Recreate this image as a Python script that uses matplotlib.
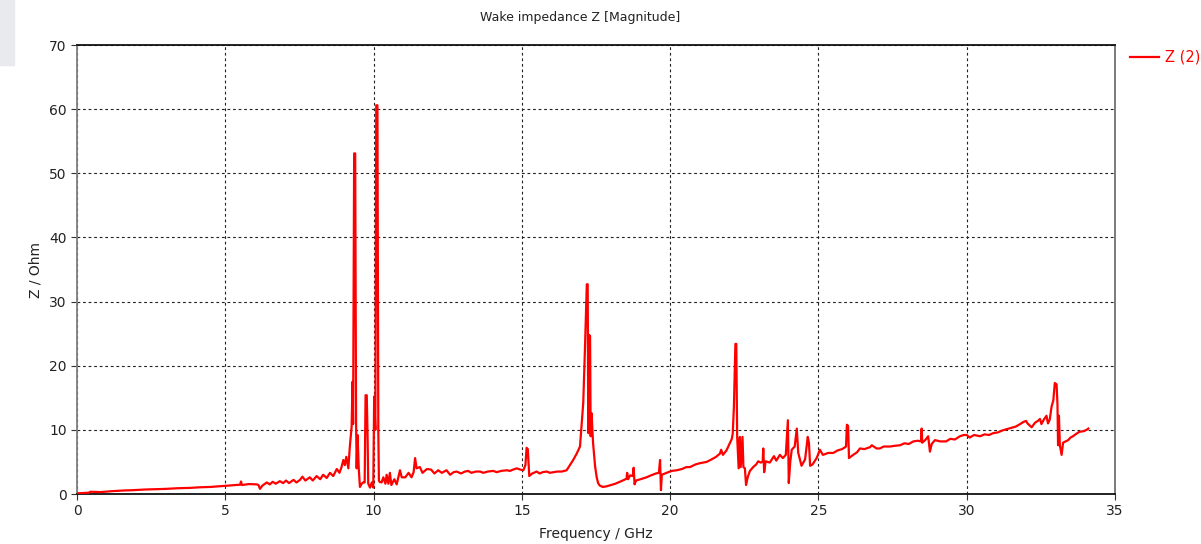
import matplotlib
matplotlib.use("Agg")
import matplotlib.pyplot as plt
import matplotlib.patches as mpatches

# Wake impedance magnitude
freq_ghz = [
    0.0, 0.4, 0.45, 0.8, 1.2, 1.6, 1.9, 2.3, 2.7, 3.0, 3.4, 3.8, 4.15, 4.5, 4.8, 5.0,
    5.3, 5.5, 5.53, 5.56, 5.8, 6.06, 6.12, 6.17, 6.25, 6.4, 6.5, 6.6, 6.7, 6.84, 6.95,
    7.05, 7.15, 7.3, 7.4, 7.52, 7.6, 7.7, 7.85, 7.95, 8.08, 8.2, 8.3, 8.42, 8.53, 8.64,
    8.76, 8.85, 8.92, 8.98, 9.03, 9.08, 9.15, 9.2, 9.26, 9.29, 9.31, 9.345, 9.38, 9.41,
    9.43, 9.46, 9.5, 9.54, 9.6, 9.65, 9.7, 9.73, 9.77, 9.8, 9.82, 9.88, 9.94, 9.99,
    10.02, 10.06, 10.09, 10.13, 10.16, 10.18, 10.2, 10.27, 10.33, 10.4, 10.44, 10.5,
    10.55, 10.6, 10.7, 10.78, 10.89, 10.95, 11.07, 11.18, 11.28, 11.35, 11.4, 11.45,
    11.56, 11.65, 11.8, 11.94, 12.05, 12.18, 12.3, 12.46, 12.58, 12.7, 12.8, 12.95,
    13.08, 13.19, 13.3, 13.45, 13.59, 13.7, 13.85, 14.04, 14.15, 14.3, 14.49, 14.6,
    14.7, 14.83, 14.95, 15.05, 15.12, 15.16, 15.2, 15.25, 15.35, 15.5, 15.6, 15.7,
    15.84, 15.95, 16.06, 16.2, 16.35, 16.51, 16.62, 16.73, 16.85, 16.96, 17.07, 17.13,
    17.19, 17.22, 17.24, 17.27, 17.3, 17.32, 17.35, 17.4, 17.47, 17.52, 17.57, 17.63,
    17.73, 17.86, 18.0, 18.15, 18.3, 18.45, 18.53, 18.55, 18.58, 18.65, 18.74, 18.77,
    18.8, 18.85, 19.0, 19.2, 19.35, 19.52, 19.62, 19.66, 19.69, 19.72, 19.88, 20.05,
    20.22, 20.4, 20.55, 20.67, 20.85, 21.0, 21.23, 21.4, 21.55, 21.68, 21.72, 21.78,
    21.9, 22.02, 22.08, 22.11, 22.15, 22.2, 22.23, 22.26, 22.31, 22.35, 22.38, 22.44,
    22.47, 22.52, 22.56, 22.62, 22.69, 22.8, 22.9, 22.97, 23.05, 23.12, 23.14, 23.17,
    23.22, 23.36, 23.5, 23.58, 23.7, 23.8, 23.9, 23.97, 24.0, 24.05, 24.1, 24.2, 24.27,
    24.32, 24.43, 24.55, 24.64, 24.68, 24.72, 24.8, 24.94, 25.05, 25.15, 25.33, 25.5,
    25.65, 25.8, 25.93, 25.96, 26.0, 26.03, 26.17, 26.3, 26.4, 26.55, 26.74, 26.8,
    26.96, 27.07, 27.2, 27.41, 27.55, 27.75, 27.9, 28.05, 28.2, 28.35, 28.46, 28.48,
    28.5, 28.6, 28.7, 28.76, 28.82, 28.93, 29.1, 29.3, 29.45, 29.6, 29.77, 29.9, 30.0,
    30.1, 30.25, 30.45, 30.6, 30.75, 30.9, 31.05, 31.2, 31.34, 31.5, 31.65, 31.8, 31.9,
    32.0, 32.05, 32.19, 32.3, 32.4, 32.47, 32.52, 32.6, 32.69, 32.74, 32.8, 32.86,
    32.92, 32.97, 33.03, 33.06, 33.08, 33.11, 33.14, 33.2, 33.25, 33.42, 33.5, 33.58,
    33.7, 33.8, 33.95, 34.04, 34.1,
]
z_ohm = [
    0.1, 0.2, 0.35, 0.3, 0.45, 0.55, 0.6, 0.7, 0.75, 0.8, 0.9, 0.95, 1.05, 1.1, 1.2, 1.25,
    1.35, 1.45, 1.95, 1.4, 1.55, 1.5, 1.4, 0.8, 1.3, 1.8, 1.5, 1.9, 1.6, 2.0, 1.7,
    2.1, 1.7, 2.2, 1.8, 2.2, 2.7, 2.1, 2.6, 2.1, 2.8, 2.3, 3.0, 2.5, 3.3, 2.8,
    3.9, 3.3, 4.2, 5.3, 4.5, 5.8, 4.0, 7.4, 10.5, 17.5, 10.9, 53.1, 53.1, 11.3,
    4.0, 9.2, 4.0, 1.1, 1.6, 1.8, 1.8, 15.4, 15.4, 8.4, 1.6, 1.0, 1.8, 1.0,
    15.2, 10.0, 60.6, 60.6, 9.7, 2.1, 1.9, 1.8, 2.6, 1.6, 3.0, 1.6,
    3.3, 1.4, 2.3, 1.5, 3.7, 2.6, 2.6, 3.3, 2.6, 3.4, 5.6, 4.0,
    4.2, 3.3, 3.9, 3.8, 3.2, 3.7, 3.3, 3.7, 3.0, 3.4, 3.5, 3.2,
    3.5, 3.6, 3.3, 3.5, 3.5, 3.3, 3.5, 3.6, 3.4, 3.6, 3.7, 3.6,
    3.8, 4.0, 3.8, 3.7, 4.5, 7.2, 7.0, 2.8, 3.2, 3.5, 3.2, 3.4,
    3.5, 3.3, 3.4, 3.5, 3.5, 3.7, 4.5, 5.3, 6.3, 7.4, 14.2, 23.0,
    32.7, 32.7, 9.5, 24.8, 24.6, 9.0, 12.6, 8.0, 4.3, 2.7, 1.7, 1.3,
    1.1, 1.2, 1.4, 1.6, 1.9, 2.2, 2.4, 3.3, 2.3, 2.9, 2.8, 4.1,
    1.5, 2.1, 2.3, 2.6, 2.9, 3.2, 3.3, 5.3, 0.6, 3.0, 3.3, 3.6,
    3.7, 3.9, 4.2, 4.2, 4.6, 4.8, 5.0, 5.4, 5.8, 6.3, 6.9, 6.1,
    6.8, 8.0, 8.6, 9.4, 13.6, 23.4, 23.4, 8.9, 4.0, 8.9, 4.2, 8.9,
    4.2, 4.0, 1.4, 2.7, 3.6, 4.2, 4.6, 5.1, 4.9, 5.0, 7.1, 3.4,
    5.1, 4.9, 5.9, 5.2, 6.1, 5.6, 6.1, 11.5, 1.7, 5.0, 6.9, 7.4, 10.2,
    6.4, 4.4, 5.4, 8.9, 8.0, 4.4, 4.6, 5.6, 6.9, 6.1, 6.4, 6.4,
    6.8, 7.0, 7.4, 10.8, 10.6, 5.6, 6.1, 6.5, 7.1, 7.0, 7.3, 7.6,
    7.1, 7.1, 7.4, 7.4, 7.5, 7.6, 7.9, 7.8, 8.2, 8.3, 8.2, 10.2,
    8.0, 8.4, 9.0, 6.6, 7.8, 8.4, 8.2, 8.2, 8.6, 8.5, 9.0, 9.2, 9.2,
    8.8, 9.2, 9.0, 9.3, 9.2, 9.5, 9.6, 9.9, 10.1, 10.3, 10.5, 10.9, 11.2,
    11.4, 11.0, 10.4, 11.1, 11.4, 11.7, 10.9, 11.6, 12.2, 11.0, 11.6, 13.6,
    14.6, 17.3, 17.1, 14.0, 7.6, 12.2, 7.6, 6.1, 8.0, 8.4, 8.8, 9.0,
    9.4, 9.7, 9.8, 10.0, 10.2,
]

x_ticks = [0, 5, 10, 15, 20, 25, 30, 35]
y_ticks = [0, 10, 20, 30, 40, 50, 60, 70]

plt.rcParams["font.family"] = ["DejaVu Sans"]

fig = plt.figure(figsize=(12.01, 5.44), dpi=100)
ax = fig.add_axes([77 / 1201, 1 - 494 / 544, (1115 - 77) / 1201, (494 - 45) / 544])

# light gray tab in the upper left corner
fig.patches.append(mpatches.Rectangle((0, 1 - 65 / 544), 14 / 1201, 65 / 544,
                                      transform=fig.transFigure, color="#e8eaee",
                                      zorder=0))

ax.plot(freq_ghz, z_ohm, color="#ff0000", lw=1.6, label="Z (2)", zorder=3)

ax.set_xlim(0, 35)
ax.set_ylim(0, 70)
ax.set_xticks(x_ticks)
ax.set_yticks(y_ticks)
ax.tick_params(labelsize=10, length=4, width=0.8, colors="#333333", labelcolor="#222222")
ax.grid(True, color="#222222", linestyle=(0, (2.5, 2.5)), linewidth=0.8)

for side, col in [("left", "#808080"), ("right", "#707070"),
                  ("top", "#111111"), ("bottom", "#111111")]:
    ax.spines[side].set_color(col)
    ax.spines[side].set_linewidth(1.3)

ax.set_xlabel("Frequency / GHz", fontsize=10, color="#222222", labelpad=6)
ax.set_ylabel("Z / Ohm", fontsize=10, color="#222222", labelpad=5)
fig.text(580 / 1201, 1 - 17 / 544, "Wake impedance Z [Magnitude]", ha="center",
         va="center", fontsize=9, color="#222222")

fig.legend(loc="upper left", bbox_to_anchor=(1130 / 1201, 1 - 50 / 544), frameon=False,
           labelcolor="#ff0000", fontsize=10.5, handlelength=2.0, handletextpad=0.4,
           borderpad=0, borderaxespad=0)

fig.savefig("out.png", dpi=100)
